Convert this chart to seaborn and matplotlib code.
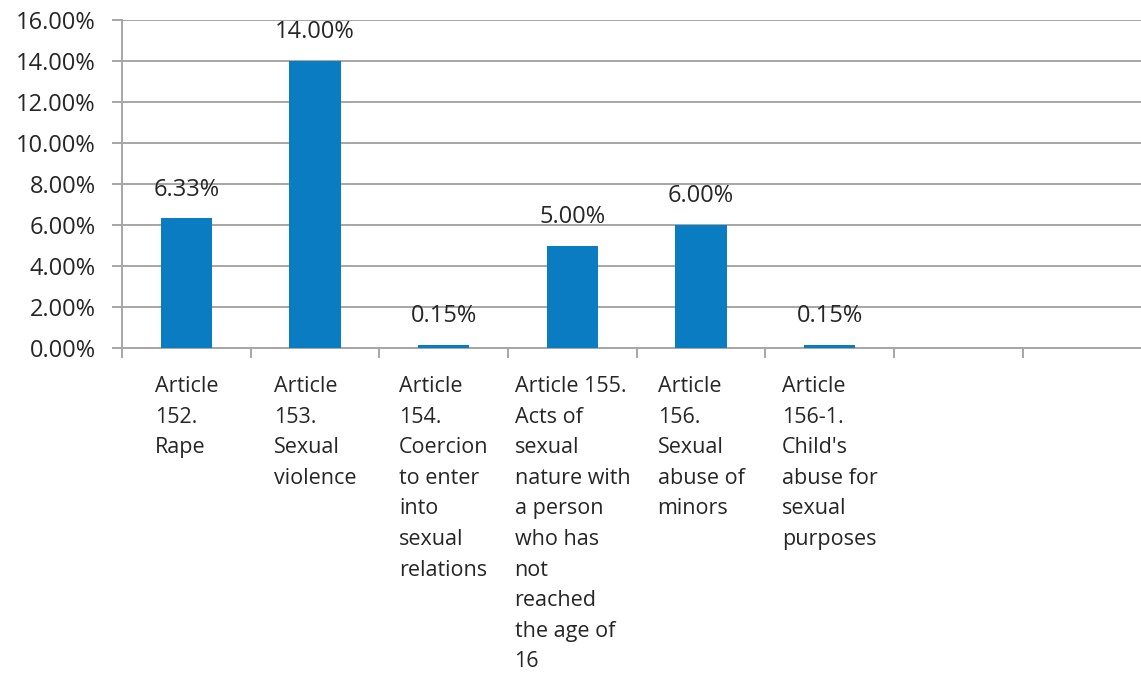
import pandas as pd
import seaborn as sns
import matplotlib.pyplot as plt
from matplotlib.ticker import FixedLocator, PercentFormatter

# Chart values
articles = [
    "Article\n152.\nRape",
    "Article\n153.\nSexual\nviolence",
    "Article\n154.\nCoercion\nto enter\ninto\nsexual\nrelations",
    "Article 155.\nActs of\nsexual\nnature with\na person\nwho has\nnot\nreached\nthe age of\n16",
    "Article\n156.\nSexual\nabuse of\nminors",
    "Article\n156-1.\nChild's\nabuse for\nsexual\npurposes",
]
shares = [6.33, 14.00, 0.15, 5.00, 6.00, 0.15]
y_ticks = [0, 2, 4, 6, 8, 10, 12, 14, 16]
n_slots = 8  # the original chart leaves two empty category slots

df = pd.DataFrame({"article": articles, "share": shares})

sns.set_style("white")
plt.rcParams['font.family'] = ['Open Sans', 'DejaVu Sans']

fig = plt.figure(figsize=(11.41, 6.8), dpi=100)
ax = fig.add_axes([0.107, 0.488, 0.902, 0.483])

sns.barplot(data=df, x="article", y="share", color="#0A7DC2", saturation=1,
            width=0.4, linewidth=0, ax=ax, zorder=3)

ax.set_xlim(-0.5, n_slots - 0.5)
ax.set_ylim(0, 16)
ax.yaxis.set_major_locator(FixedLocator(y_ticks))
ax.yaxis.set_major_formatter(PercentFormatter(decimals=2))
ax.grid(axis="y", color="#A6A6A6", linewidth=1.4, zorder=0)

for s in ["top", "right"]:
    ax.spines[s].set_visible(False)
for s in ["left", "bottom"]:
    ax.spines[s].set_color("#A6A6A6")
    ax.spines[s].set_linewidth(1.4)

ax.tick_params(axis="y", length=7, width=1.4, color="#A6A6A6", pad=12,
               labelsize=17, labelcolor="#262626", left=True)

# category labels at slot centres, boundary ticks between slots
ax.set_xticks(range(len(articles)))
ax.set_xticklabels(articles, fontsize=15.5, color="#262626",
                   multialignment="left", linespacing=1.6, va="top")
ax.tick_params(axis="x", which="major", length=0, pad=20)
ax.set_xticks([i - 0.5 for i in range(n_slots)], minor=True)
ax.tick_params(axis="x", which="minor", length=7, width=1.4, color="#A6A6A6",
               bottom=True)

ax.bar_label(ax.containers[0], labels=[f"{v:.2f}%" for v in shares],
             padding=12, fontsize=17, color="#262626")

ax.set_xlabel("")
ax.set_ylabel("")

fig.savefig("out.png", dpi=100)
